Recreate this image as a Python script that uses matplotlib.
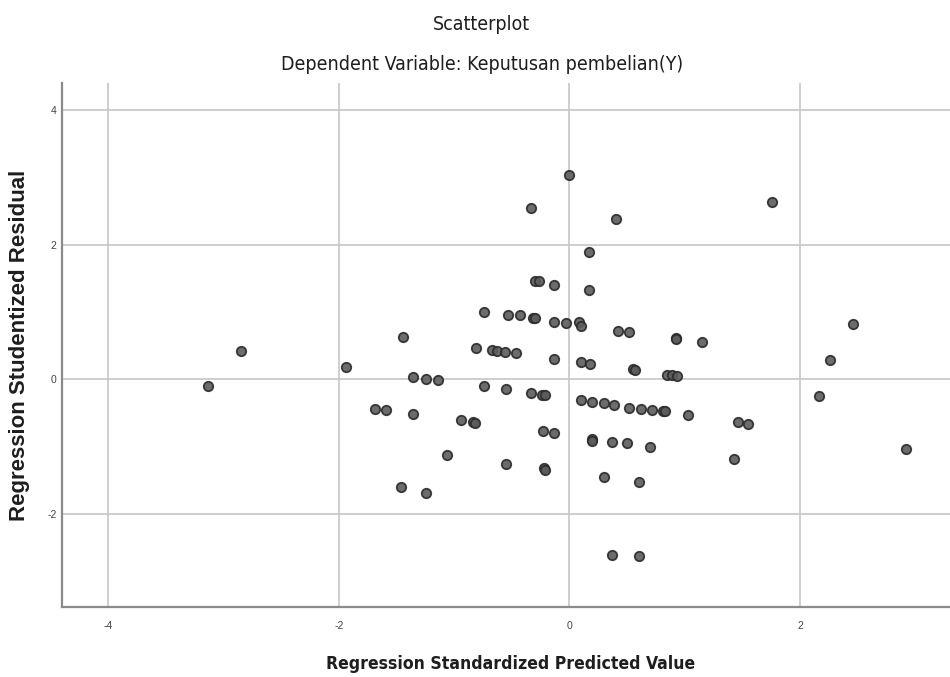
import matplotlib
matplotlib.use("Agg")
import matplotlib.pyplot as plt
from matplotlib import font_manager
from matplotlib.font_manager import FontProperties

x_vals = [-2.85, -3.13, -1.94, -1.44, -1.36, -1.24, -1.14, -1.69, -1.59, -1.36, -0.94, -1.06, -1.46, -1.24,
          0.00, -0.33, 0.40, 0.17, -0.30, -0.26, -0.13, 0.17, -0.74, -0.53, -0.43, -0.32, -0.30, -0.13, -0.03,
          0.08, 0.10, 0.42, 0.52, 0.92, 0.92, 1.15, -0.81, -0.67, -0.63, -0.56, -0.46, -0.13, 0.10, 0.18, 0.55,
          0.57, 0.85, 0.89, 0.93, -0.74, -0.55,
          -0.33, -0.24, -0.21, 0.10, 0.20, 0.30, 0.39, 0.52, 0.62, 0.72, 0.81, 0.83, 1.03, -0.84, -0.82, -0.23,
          -0.13, 0.20, 0.20, 0.37, 0.50, 0.70, -0.55, -0.22, -0.21, 0.30, 0.60, 0.37, 0.60,
          1.76, 2.46, 2.26, 2.16, 1.46, 1.55, 1.43, 2.92]
y_vals = [0.42, -0.10, 0.19, 0.63, 0.04, 0.01, -0.01, -0.44, -0.46, -0.52, -0.61, -1.13, -1.60, -1.68,
          3.04, 2.55, 2.38, 1.89, 1.46, 1.46, 1.40, 1.33, 1.00, 0.95, 0.95, 0.91, 0.91, 0.85, 0.84,
          0.85, 0.79, 0.72, 0.70, 0.62, 0.60, 0.55, 0.47, 0.43, 0.42, 0.41, 0.39, 0.30, 0.26, 0.23, 0.15,
          0.14, 0.07, 0.06, 0.05, -0.10, -0.14,
          -0.20, -0.23, -0.23, -0.30, -0.33, -0.35, -0.38, -0.42, -0.44, -0.46, -0.47, -0.47, -0.53, -0.63, -0.65, -0.77,
          -0.80, -0.88, -0.91, -0.93, -0.95, -1.01, -1.26, -1.32, -1.35, -1.45, -1.53, -2.61, -2.63,
          2.63, 0.82, 0.29, -0.25, -0.63, -0.66, -1.18, -1.03]
x_ticks = [-4, -2, 0, 2]
y_ticks = [-2, 0, 2, 4]

title1 = "Scatterplot"
title2 = "Dependent Variable: Keputusan pembelian(Y)"
xlabel = "Regression Standardized Predicted Value"
ylabel = "Regression Studentized Residual"

plt.rcParams["axes.unicode_minus"] = False

# Prefer a condensed face (SPSS uses Arial Narrow-like titles)
cond_path = font_manager.findfont(FontProperties(family="DejaVu Sans", stretch="condensed"))
has_cond = "Condensed" in cond_path
if has_cond:
    nfam, nstretch = "DejaVu Sans", "condensed"
    t_size, xl_size = 14, 12.6
else:
    nfam, nstretch = "Liberation Sans", "normal"
    t_size, xl_size = 14, 13.5

fig = plt.figure(figsize=(9.5, 6.77), dpi=100)
ax = fig.add_axes([62/950, (677-607)/677, (950-62)/950, (607-83)/677])
ax.set_xlim(-4.40, 3.30)
ax.set_ylim(-3.38, 4.40)

ax.set_xticks(x_ticks)
ax.set_yticks(y_ticks)
ax.grid(True, color="#c6c6c6", linewidth=1.2)
ax.set_axisbelow(True)

ax.scatter(x_vals, y_vals, s=46, facecolor="#5c5c5c", edgecolor="#2a2a2a", linewidth=1.3, alpha=0.9, zorder=3)

for s in ["top", "right"]:
    ax.spines[s].set_visible(False)
for s in ["left", "bottom"]:
    ax.spines[s].set_color("#8a8a8a")
    ax.spines[s].set_linewidth(1.6)

ax.tick_params(axis="x", length=0, pad=10, labelsize=7.5, labelcolor="#444444")
ax.tick_params(axis="y", length=0, pad=4, labelsize=7.5, labelcolor="#444444")
for lab in ax.get_xticklabels() + ax.get_yticklabels():
    lab.set_fontfamily("Liberation Sans")

fig.text(481/950, 1 - 24/677, title1, ha="center", va="center", fontsize=t_size, family=nfam,
         fontstretch=nstretch, color="#1e1e1e")
fig.text(482/950, 1 - 65/677, title2, ha="center", va="center", fontsize=t_size, family=nfam,
         fontstretch=nstretch, color="#1e1e1e")
fig.text(511/950, 1 - 664/677, xlabel, ha="center", va="center", fontsize=xl_size, family=nfam,
         fontstretch=nstretch, fontweight="bold", color="#1e1e1e")
fig.text(20/950, 1 - 345/677, ylabel, ha="center", va="center", rotation=90, fontsize=16,
         family="Liberation Sans", fontweight="bold", color="#1e1e1e")

fig.savefig("out.png", dpi=100)
